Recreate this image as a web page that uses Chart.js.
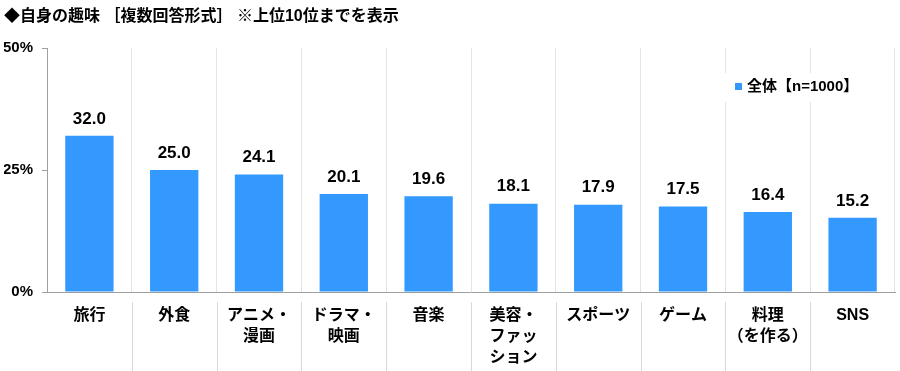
<!DOCTYPE html>
<html>
<head>
<meta charset="utf-8">
<script src="https://cdn.jsdelivr.net/npm/chart.js@4/dist/chart.umd.min.js"></script>
<style>
  html, body { margin: 0; padding: 0; background: #fff; }
  #wrap { width: 900px; height: 371px; }
</style>
</head>
<body>
<div id="wrap"><canvas id="c" width="900" height="371"></canvas></div>
<script>
// データ
const categories = [
  ['旅行'], ['外食'], ['アニメ・', '漫画'], ['ドラマ・', '映画'], ['音楽'],
  ['美容・', 'ファッ', 'ション'], ['スポーツ'], ['ゲーム'], ['料理', '（を作る）'], ['SNS']
];
const values = [32.0, 25.0, 24.1, 20.1, 19.6, 18.1, 17.9, 17.5, 16.4, 15.2];
const yTicks = [0, 25, 50];
const seriesName = '全体【n=1000】';
const titleText = '◆自身の趣味 ［複数回答形式］ ※上位10位までを表示';

const FONT = '"Liberation Sans", "Noto Sans CJK JP", sans-serif';
const BLUE = '#3399ff';

// 棒の上に数値を表示
const valueLabels = {
  id: 'valueLabels',
  afterDatasetsDraw(chart) {
    const ctx = chart.ctx;
    const meta = chart.getDatasetMeta(0);
    ctx.save();
    ctx.font = 'bold 17px ' + FONT;
    ctx.fillStyle = '#000';
    ctx.textAlign = 'center';
    ctx.textBaseline = 'middle';
    meta.data.forEach((bar, i) => {
      ctx.fillText(values[i].toFixed(1), bar.x, bar.y - 17);
    });
    ctx.restore();
  }
};

// 軸の下のラベル区切り線
const labelSeparators = {
  id: 'labelSeparators',
  afterDraw(chart) {
    const ctx = chart.ctx;
    const x = chart.scales.x;
    const top = chart.chartArea.bottom + 10;
    ctx.save();
    ctx.strokeStyle = '#d9d9d9';
    ctx.lineWidth = 1;
    for (let i = 1; i < categories.length; i++) {
      const px = Math.round((x.getPixelForValue(i - 1) + x.getPixelForValue(i)) / 2) + 0.5;
      ctx.beginPath();
      ctx.moveTo(px, top);
      ctx.lineTo(px, chart.height);
      ctx.stroke();
    }
    ctx.restore();
  }
};

// 凡例（グラフ内右上）
const innerLegend = {
  id: 'innerLegend',
  afterDraw(chart) {
    const ctx = chart.ctx;
    const area = chart.chartArea;
    const bx = area.right - 160;
    const by = area.top + 39;
    ctx.save();
    ctx.fillStyle = '#fff';
    ctx.fillRect(bx - 12, by - 14, 142, 29);
    ctx.fillStyle = BLUE;
    ctx.fillRect(bx, by - 4, 7, 7);
    ctx.font = 'bold 15px ' + FONT;
    ctx.fillStyle = '#000';
    ctx.textAlign = 'left';
    ctx.textBaseline = 'middle';
    ctx.fillText(seriesName, bx + 12, by);
    ctx.restore();
  }
};

new Chart(document.getElementById('c'), {
  type: 'bar',
  data: {
    labels: categories,
    datasets: [{
      label: seriesName,
      data: values,
      backgroundColor: BLUE,
      borderWidth: 0,
      categoryPercentage: 1,
      barPercentage: 0.57
    }]
  },
  options: {
    responsive: false,
    animation: false,
    devicePixelRatio: 1,
    layout: { padding: { left: 4, right: 5, top: 0, bottom: 0 } },
    plugins: {
      legend: { display: false },
      tooltip: { enabled: false },
      title: {
        display: true,
        text: titleText,
        align: 'start',
        color: '#000',
        font: { family: FONT, size: 16, weight: 'bold', lineHeight: 1.125 },
        padding: { top: 8, bottom: 22 }
      }
    },
    scales: {
      x: {
        offset: true,
        grid: {
          offset: true,
          color: '#e4e4e4',
          drawTicks: false
        },
        border: { color: '#a0a0a0' },
        ticks: {
          color: '#000',
          padding: 13,
          maxRotation: 0,
          autoSkip: false,
          font: { family: FONT, size: 16, weight: 'bold', lineHeight: 1.32 }
        },
        afterFit(scale) { scale.height = 79; }
      },
      y: {
        min: 0,
        max: 50,
        afterBuildTicks(scale) { scale.ticks = yTicks.map(v => ({ value: v })); },
        grid: {
          drawOnChartArea: false,
          drawTicks: true,
          tickLength: 5,
          color: '#a0a0a0'
        },
        border: { color: '#a0a0a0' },
        ticks: {
          color: '#000',
          padding: 9,
          font: { family: FONT, size: 15, weight: 'bold' },
          callback: v => v + '%'
        },
        afterFit(scale) { scale.width = 43; }
      }
    }
  },
  plugins: [valueLabels, labelSeparators, innerLegend]
});
</script>
</body>
</html>
